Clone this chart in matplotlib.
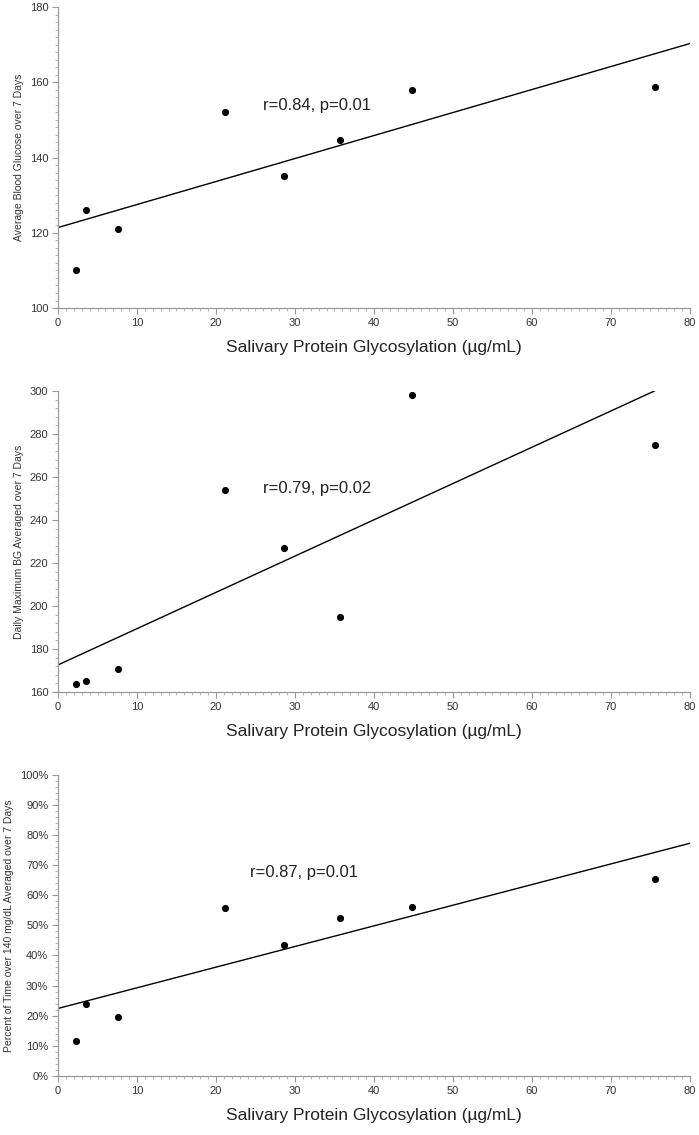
import matplotlib.pyplot as plt
from matplotlib.ticker import MultipleLocator, PercentFormatter

plt.rcParams['font.family'] = ['Liberation Sans', 'DejaVu Sans']

# salivary protein glycosylation (ug/mL), same subjects in all panels
glyco = [2.3, 3.5, 7.6, 21.2, 28.6, 35.7, 44.8, 75.6]

avg_bg = [110, 126, 121, 152, 135, 144.6, 158, 158.8]
max_bg = [163.6, 165, 170.7, 254, 227, 195, 298, 275]
pct_time = [11.5, 24.0, 19.7, 55.7, 43.5, 52.4, 56.0, 65.2]

# regression lines as drawn (endpoints)
fit1_x, fit1_y = [0, 80], [121.4, 170.3]
fit2_x, fit2_y = [0, 75.5], [172.6, 300]
fit3_x, fit3_y = [0, 80], [22.4, 77.2]

labels = ['r=0.84, p=0.01', 'r=0.79, p=0.02', 'r=0.87, p=0.01']
label_pos = [(26.0, 153.7), (25.9, 254.7), (24.3, 67.6)]
ylabels = ['Average Blood Glucose over 7 Days',
           'Daily Maximum BG Averaged over 7 Days',
           'Percent of Time over 140 mg/dL Averaged over 7 Days']
xlabel = 'Salivary Protein Glycosylation (\u00b5g/mL)'

fig = plt.figure(figsize=(6.99, 11.35), dpi=100)
rects = [[0.083, 0.7286, 0.904, 0.2652],
         [0.083, 0.3903, 0.904, 0.2652],
         [0.083, 0.0520, 0.904, 0.2656]]
ys = [avg_bg, max_bg, pct_time]
fits = [(fit1_x, fit1_y), (fit2_x, fit2_y), (fit3_x, fit3_y)]
ylims = [(100, 180), (160, 300), (0, 100)]
ymajor = [20, 20, 10]
yminor = [2, 4, 2]

for i in range(3):
    ax = fig.add_axes(rects[i])
    ax.scatter(glyco, ys[i], s=17, color='black', zorder=3)
    ax.plot(fits[i][0], fits[i][1], color='black', lw=1.0)
    ax.text(label_pos[i][0], label_pos[i][1], labels[i], fontsize=12,
            va='center', ha='left', color='#222222')
    ax.set_xlim(0, 80)
    ax.set_ylim(*ylims[i])
    ax.xaxis.set_major_locator(MultipleLocator(10))
    ax.xaxis.set_minor_locator(MultipleLocator(1))
    ax.yaxis.set_major_locator(MultipleLocator(ymajor[i]))
    ax.yaxis.set_minor_locator(MultipleLocator(yminor[i]))
    if i == 2:
        ax.yaxis.set_major_formatter(PercentFormatter(decimals=0))
    for s in ['top', 'right']:
        ax.spines[s].set_visible(False)
    for s in ['left', 'bottom']:
        ax.spines[s].set_color('#999999')
        ax.spines[s].set_linewidth(0.9)
    ax.tick_params(which='major', length=4, color='#999999', labelsize=8,
                   labelcolor='#333333', pad=3)
    ax.tick_params(which='minor', length=2, color='#aaaaaa')
    ax.set_ylabel(ylabels[i], fontsize=7.5, color='#333333', labelpad=4)
    ax.set_xlabel(xlabel, fontsize=12.5, color='#222222', labelpad=9)

fig.savefig('out.png', dpi=100)
